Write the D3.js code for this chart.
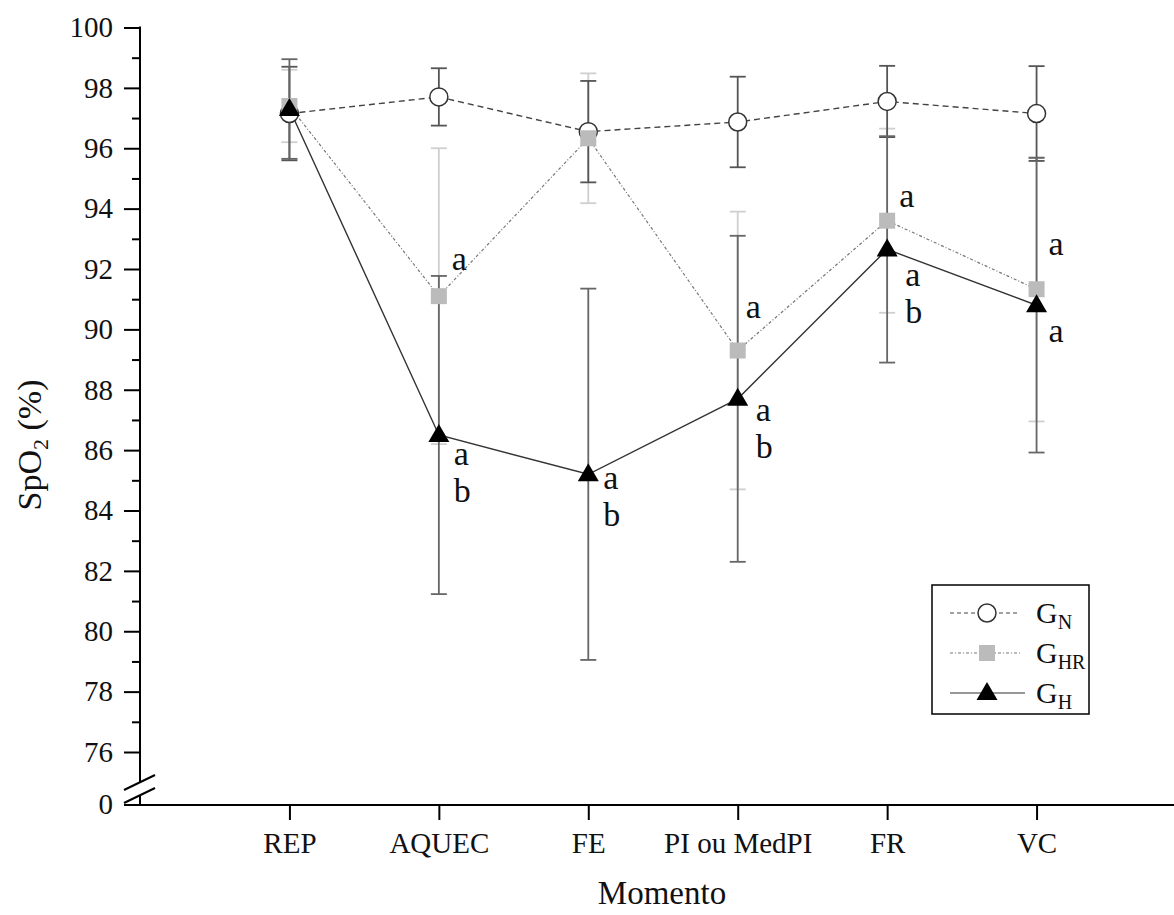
<!DOCTYPE html>
<html>
<head>
<meta charset="utf-8">
<script src="https://cdn.jsdelivr.net/npm/d3@7"></script>
<style>
  html, body { margin: 0; padding: 0; background: #fff; }
  svg { display: block; font-family: "Liberation Serif", "Times New Roman", serif; }
</style>
</head>
<body>
<svg id="chart"></svg>
<script>
// values (mean and SD of SpO2 per moment)
const moments = ["REP", "AQUEC", "FE", "PI ou MedPI", "FR", "VC"];
const gnMean = [97.15, 97.7, 96.55, 96.87, 97.55, 97.15];
const gnSD = [1.55, 0.95, 1.68, 1.5, 1.18, 1.57];
const ghrMean = [97.4, 91.1, 96.33, 89.3, 93.6, 91.33];
const ghrSD = [1.2, 4.9, 2.15, 4.6, 3.05, 4.38];
const ghMean = [97.3, 86.5, 85.2, 87.7, 92.65, 90.8];
const ghSD = [1.65, 5.27, 6.15, 5.4, 3.75, 4.88];
const ghrLetters = ["", "a", "", "a", "a", "a"];
const ghLetters = ["", "ab", "ab", "ab", "ab", "a"];
const yTicks = [76, 78, 80, 82, 84, 86, 88, 90, 92, 94, 96, 98, 100];
const yMinor = [77, 79, 81, 83, 85, 87, 89, 91, 93, 95, 97, 99];

const width = 1174;
const height = 915;

function main() {
  const svg = d3.select("#chart")
    .attr("width", width)
    .attr("height", height)
    .attr("viewBox", [0, 0, width, height]);

  const x = d3.scaleLinear().domain([0, 7]).range([140, 1186]);
  const y = d3.scaleLinear().domain([76, 100]).range([752, 27.5]);

  const series = [
    {key: "N", mean: gnMean, sd: gnSD, err: "#555", line: "#444", dash: "6,4", lw: 1.4},
    {key: "HR", mean: ghrMean, sd: ghrSD, err: "#cfcfcf", line: "#777", dash: "3,2,1,2", lw: 1.2},
    {key: "H", mean: ghMean, sd: ghSD, err: "#666", line: "#333", dash: null, lw: 1.4}
  ];

  drawAxes(svg, x, y);
  drawErrorBars(svg, x, y, series);
  drawLines(svg, x, y, series);
  drawMarkers(svg, x, y, series);
  drawLetters(svg, x, y);
  drawLegend(svg);
  drawTitles(svg);
}

function drawAxes(svg, x, y) {
  const yAxis = svg.append("g")
    .attr("transform", "translate(140,0)")
    .call(d3.axisLeft(y).tickValues(yTicks).tickSize(16).tickPadding(11));
  yAxis.select(".domain").remove();
  yAxis.selectAll("line").attr("stroke", "#000").attr("stroke-width", 2);
  yAxis.selectAll("text").attr("font-size", 29).attr("font-family", "Liberation Serif, serif").attr("fill", "#111");

  const yMinorAxis = svg.append("g")
    .attr("transform", "translate(140,0)")
    .call(d3.axisLeft(y).tickValues(yMinor).tickSize(8).tickFormat(""));
  yMinorAxis.select(".domain").remove();
  yMinorAxis.selectAll("line").attr("stroke", "#000").attr("stroke-width", 2);

  // y axis line with break
  svg.append("line")
    .attr("x1", 140).attr("x2", 140)
    .attr("y1", y(100) - 1).attr("y2", y(75))
    .attr("stroke", "#000").attr("stroke-width", 2);
  svg.append("line")
    .attr("x1", 140).attr("x2", 140)
    .attr("y1", 796).attr("y2", 805)
    .attr("stroke", "#000").attr("stroke-width", 2);
  svg.append("g")
    .selectAll("line")
    .data([0, 13])
    .join("line")
    .attr("x1", 124).attr("y1", d => 790 + d)
    .attr("x2", 155).attr("y2", d => 775 + d)
    .attr("stroke", "#000").attr("stroke-width", 2);
  svg.append("text")
    .attr("x", 113).attr("y", 805)
    .attr("dy", "0.32em")
    .attr("text-anchor", "end")
    .attr("font-size", 29)
    .attr("fill", "#111")
    .text("0");

  const xAxis = svg.append("g")
    .attr("transform", "translate(0,805)")
    .call(d3.axisBottom(x)
      .tickValues(d3.range(1, moments.length + 1))
      .tickFormat(i => moments[i - 1])
      .tickSize(15)
      .tickPadding(12));
  xAxis.select(".domain").remove();
  xAxis.selectAll("line").attr("stroke", "#000").attr("stroke-width", 2);
  xAxis.selectAll("text").attr("font-size", 29).attr("font-family", "Liberation Serif, serif").attr("fill", "#111");
  svg.append("line")
    .attr("x1", 124).attr("x2", width)
    .attr("y1", 805).attr("y2", 805)
    .attr("stroke", "#000").attr("stroke-width", 2);
}

function drawErrorBars(svg, x, y, series) {
  const order = [series[1], series[0], series[2]];
  order.forEach(s => {
    const g = svg.append("g").attr("stroke", s.err).attr("stroke-width", 1.8);
    const rows = s.mean.map((m, i) => ({i, lo: m - s.sd[i], hi: m + s.sd[i]}));
    g.selectAll(".v").data(rows).join("line")
      .attr("x1", d => x(d.i + 1)).attr("x2", d => x(d.i + 1))
      .attr("y1", d => y(d.hi)).attr("y2", d => y(d.lo));
    g.selectAll(".cap").data(rows.flatMap(d => [{i: d.i, v: d.hi}, {i: d.i, v: d.lo}])).join("line")
      .attr("x1", d => x(d.i + 1) - 8).attr("x2", d => x(d.i + 1) + 8)
      .attr("y1", d => y(d.v)).attr("y2", d => y(d.v));
  });
}

function drawLines(svg, x, y, series) {
  const line = d3.line().x((d, i) => x(i + 1)).y(d => y(d));
  series.forEach(s => {
    svg.append("path")
      .datum(s.mean)
      .attr("fill", "none")
      .attr("stroke", s.line)
      .attr("stroke-width", s.lw)
      .attr("stroke-dasharray", s.dash)
      .attr("d", line);
  });
}

function markerShape(g, key) {
  if (key === "N") {
    g.append("circle").attr("r", 9).attr("fill", "#fff").attr("stroke", "#333").attr("stroke-width", 1.5);
  } else if (key === "HR") {
    g.append("rect").attr("x", -8).attr("y", -8).attr("width", 16).attr("height", 16).attr("fill", "#bbb");
  } else {
    g.append("path").attr("d", "M0,-11L10.5,7L-10.5,7Z").attr("fill", "#000");
  }
}

function drawMarkers(svg, x, y, series) {
  const order = [series[0], series[1], series[2]];
  order.forEach(s => {
    svg.append("g")
      .selectAll("g")
      .data(s.mean)
      .join("g")
      .attr("transform", (d, i) => `translate(${x(i + 1)},${y(d)})`)
      .each(function () { markerShape(d3.select(this), s.key); });
  });
}

function drawLetters(svg, x, y) {
  // label offsets relative to each marker (layout only)
  const hrOffset = [[0, 0], [13, -26], [0, 0], [8, -33], [12, -14], [12, -34]];
  const hOffset = [[0, 0], [15, 30], [15, 15], [18, 22], [18, 37], [12, 37]];
  const g = svg.append("g").attr("font-size", 34).attr("fill", "#111");
  ghrLetters.forEach((t, i) => {
    if (!t) return;
    g.append("text")
      .attr("x", x(i + 1) + hrOffset[i][0])
      .attr("y", y(ghrMean[i]) + hrOffset[i][1])
      .text(t);
  });
  ghLetters.forEach((t, i) => {
    if (!t) return;
    t.split("").forEach((c, k) => {
      g.append("text")
        .attr("x", x(i + 1) + hOffset[i][0])
        .attr("y", y(ghMean[i]) + hOffset[i][1] + k * 37)
        .text(c);
    });
  });
}

function drawLegend(svg) {
  const items = [
    {key: "N", sub: "N", line: "#444", dash: "4,3", x2: 1018},
    {key: "HR", sub: "HR", line: "#777", dash: "3,2,1,2", x2: 1022},
    {key: "H", sub: "H", line: "#333", dash: null, x2: 1025}
  ];
  const lg = svg.append("g");
  lg.append("rect")
    .attr("x", 932).attr("y", 585)
    .attr("width", 157).attr("height", 129)
    .attr("fill", "#fff").attr("stroke", "#000").attr("stroke-width", 1.5);
  const row = lg.selectAll(".row").data(items).join("g")
    .attr("transform", (d, i) => `translate(0,${613 + i * 40})`);
  row.append("line")
    .attr("x1", 950).attr("x2", d => d.x2)
    .attr("y1", 0).attr("y2", 0)
    .attr("stroke", d => d.line).attr("stroke-width", 1.2)
    .attr("stroke-dasharray", d => d.dash);
  row.append("g")
    .attr("transform", "translate(987,0)")
    .each(function (d) { markerShape(d3.select(this), d.key); });
  const t = row.append("text")
    .attr("x", 1036).attr("y", 10)
    .attr("font-size", 30).attr("fill", "#111");
  t.append("tspan").text("G");
  t.append("tspan").attr("font-size", 20).attr("dy", 6).text(d => d.sub);
}

function drawTitles(svg) {
  svg.append("text")
    .attr("x", 662).attr("y", 904)
    .attr("text-anchor", "middle")
    .attr("font-size", 33).attr("fill", "#111")
    .text("Momento");
  const yl = svg.append("text")
    .attr("transform", "translate(41,445) rotate(-90)")
    .attr("text-anchor", "middle")
    .attr("font-size", 34).attr("fill", "#111");
  yl.append("tspan").text("SpO");
  yl.append("tspan").attr("font-size", 22).attr("dy", 7).text("2");
  yl.append("tspan").attr("dy", -7).text(" (%)");
}

main();
</script>
</body>
</html>
